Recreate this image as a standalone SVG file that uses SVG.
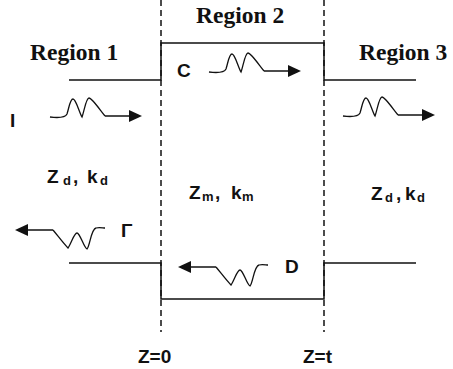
<svg xmlns="http://www.w3.org/2000/svg" width="453" height="369" viewBox="0 0 453 369">
<defs>
<style>
.reg{font-family:"Liberation Serif","Times New Roman",serif;font-weight:bold;font-size:23.5px;fill:#111}
.lab{font-family:"Liberation Sans",Arial,sans-serif;font-weight:bold;font-size:19px;fill:#111}
.big{font-family:"Liberation Sans",Arial,sans-serif;font-weight:bold;font-size:19px;fill:#111}
.sub{font-family:"Liberation Sans",Arial,sans-serif;font-weight:bold;font-size:13px;fill:#111}
.ln{fill:none;stroke:#111;stroke-width:1.5}
.dash{fill:none;stroke:#111;stroke-width:1.5;stroke-dasharray:6,4}
.wv{fill:none;stroke:#111;stroke-width:1.3}
.hd{fill:#111;stroke:none}
</style>
<g id="waveR">
<path class="wv" d="M50,117 C58,118 65,118 67,114 C69,108 70,99 73,99 C76,99 79,112 82,117 C84,112 86,98 89,98 C92,98 100,110 105,116"/>
<path class="ln" d="M105,116 L131,116" stroke-width="2"/>
<polygon class="hd" points="129,110 142,116 129,122"/>
</g>
<g id="waveL">
<path class="wv" d="M53,230 C58,236 64,244 68,248 C71,244 74,233 77,233 C80,233 84,248 87,249 C90,246 91,229 96,228 C99,227 103,228 105,228"/>
<path class="ln" d="M26,230 L53,230" stroke-width="2"/>
<polygon class="hd" points="15,230 28,224 28,236"/>
</g>
</defs>
<rect width="453" height="369" fill="#fff"/>
<g id="connectors">
<path class="dash" d="M161,0 V332"/>
<path class="dash" d="M324,0 V332"/>
<path class="ln" d="M69,80 H161 V43 H324 V80 H416"/>
<path class="ln" d="M69,263 H161 V299 H324 V263 H416"/>
<use href="#waveR" id="wave-I"/>
<use href="#waveR" id="wave-C" transform="translate(159,-45)"/>
<use href="#waveR" id="wave-T" transform="translate(293,-1)"/>
<use href="#waveL" id="wave-G"/>
<use href="#waveL" id="wave-D" transform="translate(163,37)"/>
</g>
<g id="region1"><text class="reg" x="30" y="60">Region 1</text></g>
<g id="region2"><text class="reg" x="196" y="23">Region 2</text></g>
<g id="region3"><text class="reg" x="359" y="60">Region 3</text></g>
<g id="label-C"><text class="lab" x="177" y="77">C</text></g>
<g id="label-D"><text class="lab" x="285" y="273">D</text></g>
<g id="label-I"><text class="lab" x="10" y="127" font-size="20">I</text></g>
<g id="label-G"><text class="big" x="121" y="237" font-size="15">Γ</text></g>
<g id="param-left">
<text class="big" x="47" y="183">Z</text><text class="sub" x="63" y="185">d</text>
<text class="big" x="73" y="183">,</text>
<text class="big" x="87" y="183">k</text><text class="sub" x="100" y="185">d</text>
</g>
<g id="param-mid">
<text class="big" x="189" y="199">Z</text><text class="sub" x="202" y="201">m</text>
<text class="big" x="215" y="199">,</text>
<text class="big" x="231" y="199">k</text><text class="sub" x="242" y="201">m</text>
</g>
<g id="param-right">
<text class="big" x="371" y="200">Z</text><text class="sub" x="385" y="202">d</text>
<text class="big" x="396" y="200">,</text>
<text class="big" x="405" y="200">k</text><text class="sub" x="417" y="202">d</text>
</g>
<g id="z0"><text class="lab" x="138" y="363" font-size="20">Z=0</text></g>
<g id="zt"><text class="lab" x="303" y="363" font-size="20">Z=t</text></g>
</svg>
